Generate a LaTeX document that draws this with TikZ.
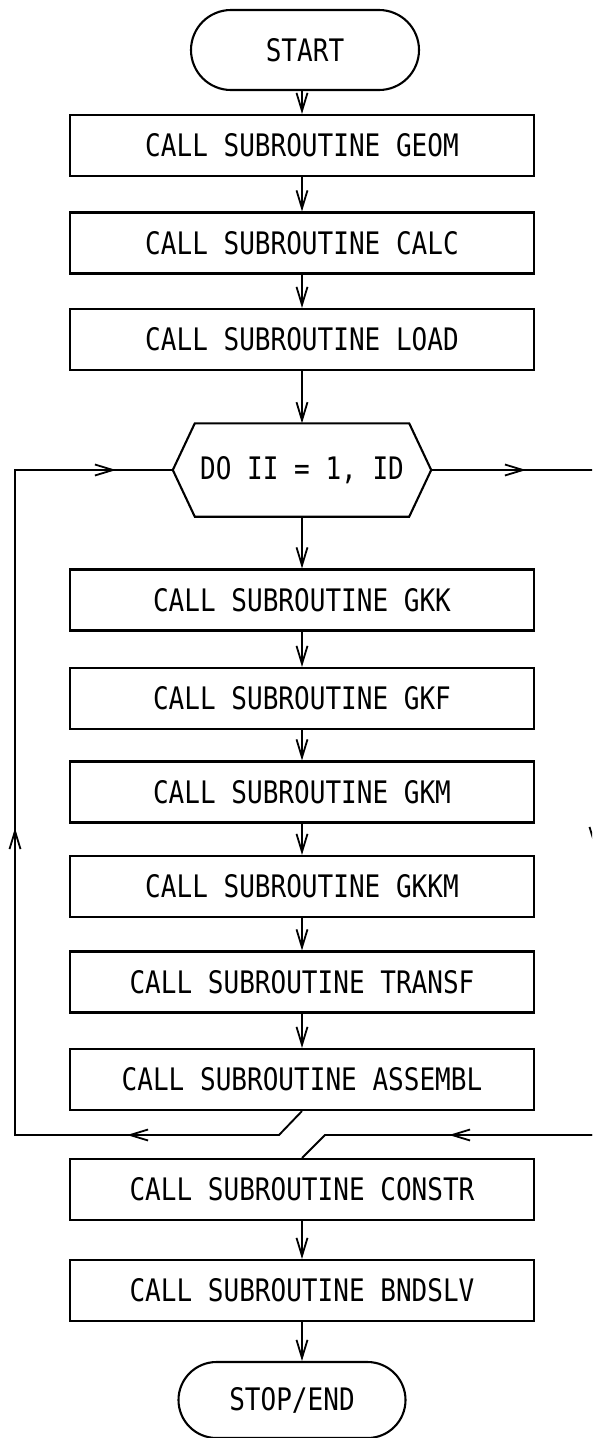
\documentclass[tikz,border=0pt]{standalone}
\usepackage{fontspec}
\newfontfamily\chartfont[FakeStretch=0.84]{DejaVu Sans Mono}
\usetikzlibrary{arrows.meta,shapes.misc}
\begin{document}
\begin{tikzpicture}[x=1pt,y=-1pt,
  every node/.style={font=\chartfont\fontsize{31}{31}\selectfont, inner sep=0pt},
  box/.style={draw, line width=2.1pt, minimum width=464pt, minimum height=61pt},
  term/.style={draw, line width=2.1pt, rounded rectangle, minimum width=228pt, minimum height=80pt},
  line/.style={line width=1.9pt},
  arr/.style={line width=1.9pt, -{Straight Barb[length=18pt,width=11pt,line width=1.8pt]}}
]
\clip (0,0) rectangle (592,1438);
\fill[white] (0,0) rectangle (592,1438);

\node[term] (start) at (305,50) {START};
\node[box] (geom) at (302,145.5) {CALL SUBROUTINE GEOM};
\node[box] (calc) at (302,243) {CALL SUBROUTINE CALC};
\node[box] (load) at (302,339.5) {CALL SUBROUTINE LOAD};
\node[minimum width=258pt, minimum height=93pt] (do) at (302,470) {DO II = 1, ID};
\draw[line width=2.1pt] (do.west) -- ([xshift=22pt]do.north west) -- ([xshift=-22pt]do.north east)
  -- (do.east) -- ([xshift=-22pt]do.south east) -- ([xshift=22pt]do.south west) -- cycle;
\node[box] (gkk) at (302,600) {CALL SUBROUTINE GKK};
\node[box] (gkf) at (302,698.5) {CALL SUBROUTINE GKF};
\node[box] (gkm) at (302,792) {CALL SUBROUTINE GKM};
\node[box] (gkkm) at (302,886.5) {CALL SUBROUTINE GKKM};
\node[box] (transf) at (302,982) {CALL SUBROUTINE TRANSF};
\node[box] (assembl) at (302,1079.5) {CALL SUBROUTINE ASSEMBL};
\node[box] (constr) at (302,1189.5) {CALL SUBROUTINE CONSTR};
\node[box] (bndslv) at (302,1290.5) {CALL SUBROUTINE BNDSLV};
\node[term, minimum height=76pt, minimum width=227pt] (stop) at (292,1400) {STOP/END};

% main vertical flow
\draw[arr] (geom.north |- start.south) -- (geom.north);
\draw[arr] (geom.south) -- (calc.north);
\draw[arr] (calc.south) -- (load.north);
\draw[arr] (load.south) -- (do.north);
\draw[arr] (do.south) -- (gkk.north);
\draw[arr] (gkk.south) -- (gkf.north);
\draw[arr] (gkf.south) -- (gkm.north);
\draw[arr] (gkm.south) -- (gkkm.north);
\draw[arr] (gkkm.south) -- (transf.north);
\draw[arr] (transf.south) -- (assembl.north);
\draw[arr] (constr.south) -- (bndslv.north);
\draw[arr] (bndslv.south) -- (bndslv.south |- stop.north);

% loop back (left)
\coordinate (l1) at (279,1135);
\coordinate (l2) at (15,1135);
\coordinate (l3) at (15,470);
\coordinate (la) at (127,1135);
\coordinate (ua) at (15,828);
\coordinate (ra) at (116,470);
\draw[line] (assembl.south) -- (l1) -- (l2) -- (l3) -- (do.west);
\draw[arr] (l1) -- (la);
\draw[arr] (l2) -- (ua);
\draw[arr] (l3) -- (ra);

% exit (right)
\coordinate (r1) at (595,470);
\coordinate (r2) at (595,1135);
\coordinate (r3) at (325,1135);
\coordinate (rra) at (526,470);
\coordinate (rda) at (595,848);
\coordinate (rla) at (449,1135);
\draw[line] (do.east) -- (r1) -- (r2) -- (r3) -- (constr.north);
\draw[arr] (do.east) -- (rra);
\draw[arr] (r1) -- (rda);
\draw[arr] (r2) -- (rla);
\end{tikzpicture}
\end{document}
